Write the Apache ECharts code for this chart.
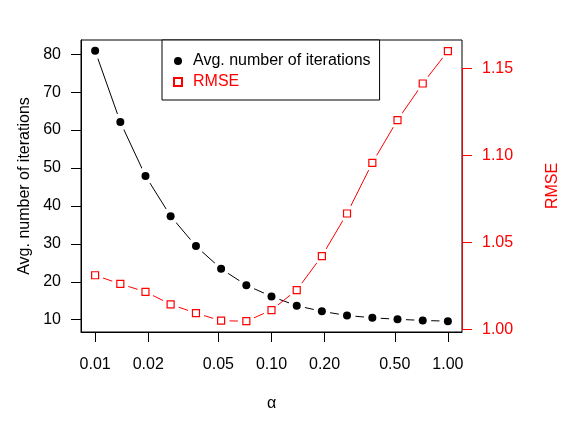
<!DOCTYPE html>
<html>
<head>
<meta charset="utf-8">
<script src="https://cdn.jsdelivr.net/npm/echarts@6/dist/echarts.min.js"></script>
<style>
  html, body { margin: 0; padding: 0; background: #fff; }
  #chart { width: 581px; height: 433px; }
</style>
</head>
<body>
<div id="chart"></div>
<script>
// alpha values (log-spaced)
const alphas = [0.01, 0.0139, 0.0193, 0.0268, 0.0373, 0.0518, 0.072, 0.1,
                0.139, 0.193, 0.268, 0.373, 0.518, 0.72, 1.0];
const avgIterations = [80.9, 62.1, 47.9, 37.3, 29.4, 23.4, 19.1, 16.1,
                       13.7, 12.2, 11.1, 10.5, 10.1, 9.8, 9.6];
const rmse = [1.031, 1.026, 1.0215, 1.0143, 1.0092, 1.0049, 1.0046, 1.011,
              1.0225, 1.042, 1.0665, 1.0956, 1.1202, 1.1412, 1.1598];
const xTicks = [0.01, 0.02, 0.05, 0.1, 0.2, 0.5, 1.0];
const leftTicks = [10, 20, 30, 40, 50, 60, 70, 80];
const rightTicks = [1.00, 1.05, 1.10, 1.15];

const FONT = 'Liberation Sans';
const RED = '#ff0000';
const X_MIN = -2.08, X_MAX = 0.08;
const L_MIN = 6.75, L_MAX = 83.75;

const logX = v => Math.log10(v);
const pairs = ys => alphas.map((a, i) => [logX(a), ys[i]]);

const chart = echarts.init(document.getElementById('chart'));

// tick-only copies of the bottom and left axes
const tickOnly = (extra) => Object.assign({
  type: 'value',
  axisLine: { show: false, onZero: false },
  splitLine: { show: false },
  axisLabel: { show: false }
}, extra);

chart.setOption({
  animation: false,
  backgroundColor: '#fff',
  textStyle: { fontFamily: FONT },
  grid: {
    left: 81, right: 119, top: 40, bottom: 101,
    show: true, borderColor: '#000', borderWidth: 1,
    outerBoundsMode: 'none'
  },
  legend: {
    orient: 'vertical',
    left: 162, top: 40,
    padding: [13, 9, 10, 11],
    itemWidth: 8, itemHeight: 8, itemGap: 5,
    borderColor: '#000', borderWidth: 1,
    backgroundColor: '#fff',
    textStyle: { fontFamily: FONT, fontSize: 16, color: '#000', padding: [0, 0, 0, 6] },
    data: [
      { name: 'Avg. number of iterations', icon: 'circle' },
      { name: 'RMSE', icon: 'rect', textStyle: { color: RED } }
    ]
  },
  xAxis: [
    {
      type: 'value', position: 'bottom',
      min: X_MIN, max: X_MAX,
      name: 'α', nameLocation: 'middle', nameGap: 64,
      nameTextStyle: { fontFamily: FONT, fontSize: 16, color: '#000' },
      axisLine: { show: true, onZero: false, lineStyle: { color: '#000', width: 1 } },
      splitLine: { show: false },
      axisTick: { show: true, length: 10, lineStyle: { color: '#000', width: 1 }, customValues: xTicks.map(logX) },
      axisLabel: {
        fontFamily: FONT, fontSize: 16, color: '#000', margin: 25,
        customValues: xTicks.map(logX),
        formatter: v => Math.pow(10, v).toFixed(2)
      }
    },
    tickOnly({
      position: 'bottom', min: X_MIN, max: X_MAX,
      axisTick: { show: true, length: 10, lineStyle: { color: '#000', width: 1 }, customValues: xTicks.map(logX) }
    })
  ],
  yAxis: [
    {
      type: 'value', position: 'left',
      min: L_MIN, max: L_MAX,
      name: 'Avg. number of iterations', nameLocation: 'middle', nameGap: 48, nameRotate: 90,
      nameTextStyle: { fontFamily: FONT, fontSize: 16, color: '#000' },
      axisLine: { show: true, onZero: false, lineStyle: { color: '#000', width: 1 } },
      splitLine: { show: false },
      axisTick: { show: true, length: 10, lineStyle: { color: '#000', width: 1 }, customValues: leftTicks },
      axisLabel: { fontFamily: FONT, fontSize: 16, color: '#000', margin: 20, customValues: leftTicks }
    },
    {
      type: 'value', position: 'right',
      min: 0.9984, max: 1.1662,
      name: 'RMSE', nameLocation: 'middle', nameGap: 83, nameRotate: 90,
      nameTextStyle: { fontFamily: FONT, fontSize: 16, color: RED },
      axisLine: { show: false, onZero: false },
      splitLine: { show: false },
      axisTick: { show: true, length: 10, lineStyle: { color: RED }, customValues: rightTicks },
      axisLabel: {
        fontFamily: FONT, fontSize: 16, color: RED, margin: 20,
        customValues: rightTicks, formatter: v => v.toFixed(2)
      }
    },
    tickOnly({
      position: 'left', min: L_MIN, max: L_MAX,
      axisTick: { show: true, length: 10, lineStyle: { color: '#000', width: 1 }, customValues: leftTicks }
    })
  ],
  series: [
    {
      name: 'iter-line', type: 'line', yAxisIndex: 0, data: pairs(avgIterations),
      showSymbol: false, z: 2,
      lineStyle: { color: '#000', width: 1 }
    },
    {
      name: 'rmse-line', type: 'line', yAxisIndex: 1, data: pairs(rmse),
      showSymbol: false, z: 2,
      lineStyle: { color: RED, width: 1 },
      // red axis line, only between the first and last tick like R draws it
      markLine: {
        silent: true, symbol: 'none', label: { show: false },
        lineStyle: { color: RED, width: 1, type: 'solid' },
        data: [[{ coord: [X_MAX, rightTicks[0]] }, { coord: [X_MAX, rightTicks[rightTicks.length - 1]] }]]
      }
    },
    // white gaps around the points (type = "b")
    {
      name: 'iter-gap', type: 'scatter', yAxisIndex: 0, data: pairs(avgIterations),
      symbolSize: 17, silent: true, z: 3,
      itemStyle: { color: '#fff', opacity: 1 }
    },
    {
      name: 'rmse-gap', type: 'scatter', yAxisIndex: 1, data: pairs(rmse),
      symbolSize: 17, silent: true, z: 3,
      itemStyle: { color: '#fff', opacity: 1 }
    },
    {
      name: 'Avg. number of iterations', type: 'scatter', yAxisIndex: 0, data: pairs(avgIterations),
      symbolSize: 8, z: 4,
      itemStyle: { color: '#000', opacity: 1 }
    },
    {
      name: 'RMSE', type: 'scatter', yAxisIndex: 1, data: pairs(rmse),
      symbol: 'rect', symbolSize: 7, z: 4,
      itemStyle: { color: '#fff', borderColor: RED, borderWidth: 1.2, opacity: 1 }
    }
  ]
});
</script>
</body>
</html>
